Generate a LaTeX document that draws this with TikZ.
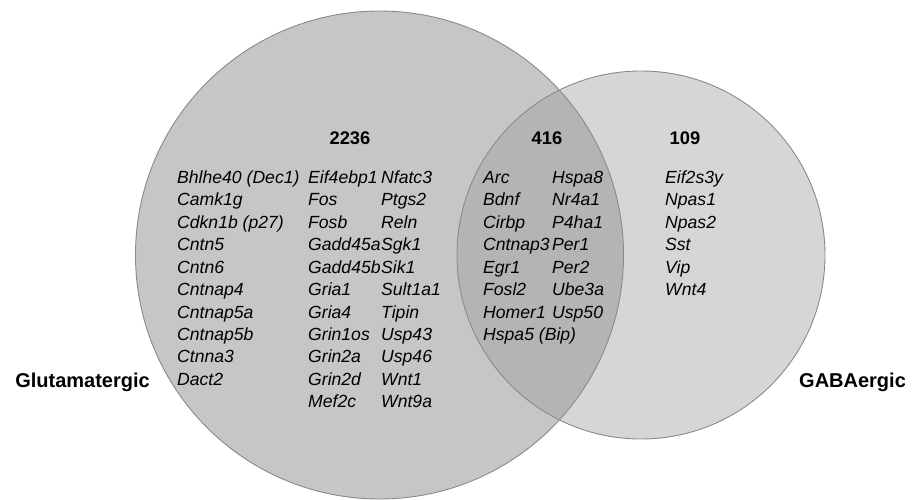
\documentclass[tikz,border=0pt]{standalone}
\usepackage{fontspec}
\setmainfont{Liberation Sans}
\definecolor{glutfill}{HTML}{C6C6C6}
\definecolor{gabafill}{HTML}{D6D6D6}
\definecolor{bothfill}{HTML}{B4B4B4}
\definecolor{rimgray}{HTML}{8A8A8A}
\tikzset{
  setrim/.style={draw=rimgray, line width=0.9pt},
  gene/.style={anchor=base west, inner sep=0pt, font=\fontsize{17.6}{22}\selectfont\itshape},
  count/.style={anchor=base, inner sep=0pt, font=\fontsize{18.3}{22}\selectfont\bfseries},
  setname/.style={inner sep=0pt, font=\fontsize{20}{24}\selectfont\bfseries},
}
\begin{document}
\begin{tikzpicture}[x=1pt,y=-1pt]
\useasboundingbox (0,0) rectangle (913,500);
% set areas
\fill[glutfill] (379.5,255) circle[radius=244];
\fill[gabafill] (641,255) circle[radius=184];
\begin{scope}
  \clip (379.5,255) circle[radius=244];
  \fill[bothfill] (641,255) circle[radius=184];
\end{scope}
\draw[setrim] (379.5,255) circle[radius=244];
\draw[setrim] (641,255) circle[radius=184];
% counts
\node[count] (nglut) at (350,145) {2236};
\node[count] (nboth) at (547,145) {416};
\node[count] (ngaba) at (685,145) {109};
% set names
\node[setname, anchor=base east] (lglut) at (150,387) {Glutamatergic};
\node[setname, anchor=base west] (lgaba) at (799,387) {GABAergic};
% glutamatergic-only genes
\foreach \g [count=\i from 0] in {{Bhlhe40 (Dec1)},Camk1g,{Cdkn1b (p27)},Cntn5,Cntn6,Cntnap4,Cntnap5a,Cntnap5b,Ctnna3,Dact2}
  \node[gene] (ga\i) at (177,183.3+22.45*\i) {\g};
\foreach \g [count=\i from 0] in {Eif4ebp1,Fos,Fosb,Gadd45a,Gadd45b,Gria1,Gria4,Grin1os,Grin2a,Grin2d,Mef2c}
  \node[gene] (gb\i) at (308,183.3+22.45*\i) {\g};
\foreach \g [count=\i from 0] in {Nfatc3,Ptgs2,Reln,Sgk1,Sik1,Sult1a1,Tipin,Usp43,Usp46,Wnt1,Wnt9a}
  \node[gene] (gc\i) at (381,183.3+22.45*\i) {\g};
% shared genes
\foreach \g [count=\i from 0] in {Arc,Bdnf,Cirbp,Cntnap3,Egr1,Fosl2,Homer1,{Hspa5 (Bip)}}
  \node[gene] (sa\i) at (483,183.3+22.45*\i) {\g};
\foreach \g [count=\i from 0] in {Hspa8,Nr4a1,P4ha1,Per1,Per2,Ube3a,Usp50}
  \node[gene] (sb\i) at (552,183.3+22.45*\i) {\g};
% GABAergic-only genes
\foreach \g [count=\i from 0] in {Eif2s3y,Npas1,Npas2,Sst,Vip,Wnt4}
  \node[gene] (ra\i) at (665,183.3+22.45*\i) {\g};
\end{tikzpicture}
\end{document}
